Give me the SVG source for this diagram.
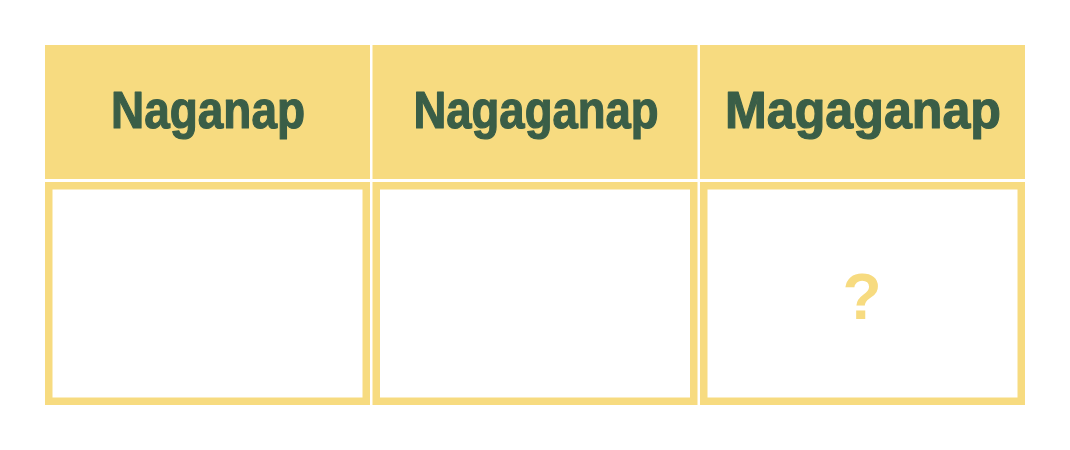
<svg xmlns="http://www.w3.org/2000/svg" width="1070" height="450" viewBox="0 0 1070 450">
  <style>
    .head { fill: #F7DB80; }
    .cell { fill: #FFFFFF; stroke: #F7DB80; stroke-width: 7.5; }
    .label { font-family: "Liberation Sans", Arial, sans-serif; font-weight: bold; font-size: 51px; fill: #3A5E47; text-anchor: middle; stroke: #3A5E47; stroke-width: 1.2; stroke-linejoin: round; }
    .q { font-family: "Liberation Sans", Arial, sans-serif; font-weight: bold; font-size: 64px; fill: #F7DB80; text-anchor: middle; }
  </style>
  <rect width="1070" height="450" fill="#FFFFFF"/>
  <g id="header-naganap">
    <rect class="head" x="45" y="45" width="325" height="134"/>
    <text class="label" x="208" y="128" textLength="194" lengthAdjust="spacingAndGlyphs">Naganap</text>
  </g>
  <g id="header-nagaganap">
    <rect class="head" x="372.5" y="45" width="325" height="134"/>
    <text class="label" x="536" y="128" textLength="245" lengthAdjust="spacingAndGlyphs">Nagaganap</text>
  </g>
  <g id="header-magaganap">
    <rect class="head" x="700" y="45" width="325" height="134"/>
    <text class="label" x="863" y="128" textLength="276" lengthAdjust="spacingAndGlyphs">Magaganap</text>
  </g>
  <g id="cell-naganap">
    <rect class="cell" x="48.75" y="185.75" width="317.5" height="215.5"/>
  </g>
  <g id="cell-nagaganap">
    <rect class="cell" x="376.25" y="185.75" width="317.5" height="215.5"/>
  </g>
  <g id="cell-magaganap">
    <rect class="cell" x="703.75" y="185.75" width="317.5" height="215.5"/>
    <text class="q" x="862" y="319">?</text>
  </g>
  <g id="connectors"></g>
</svg>
